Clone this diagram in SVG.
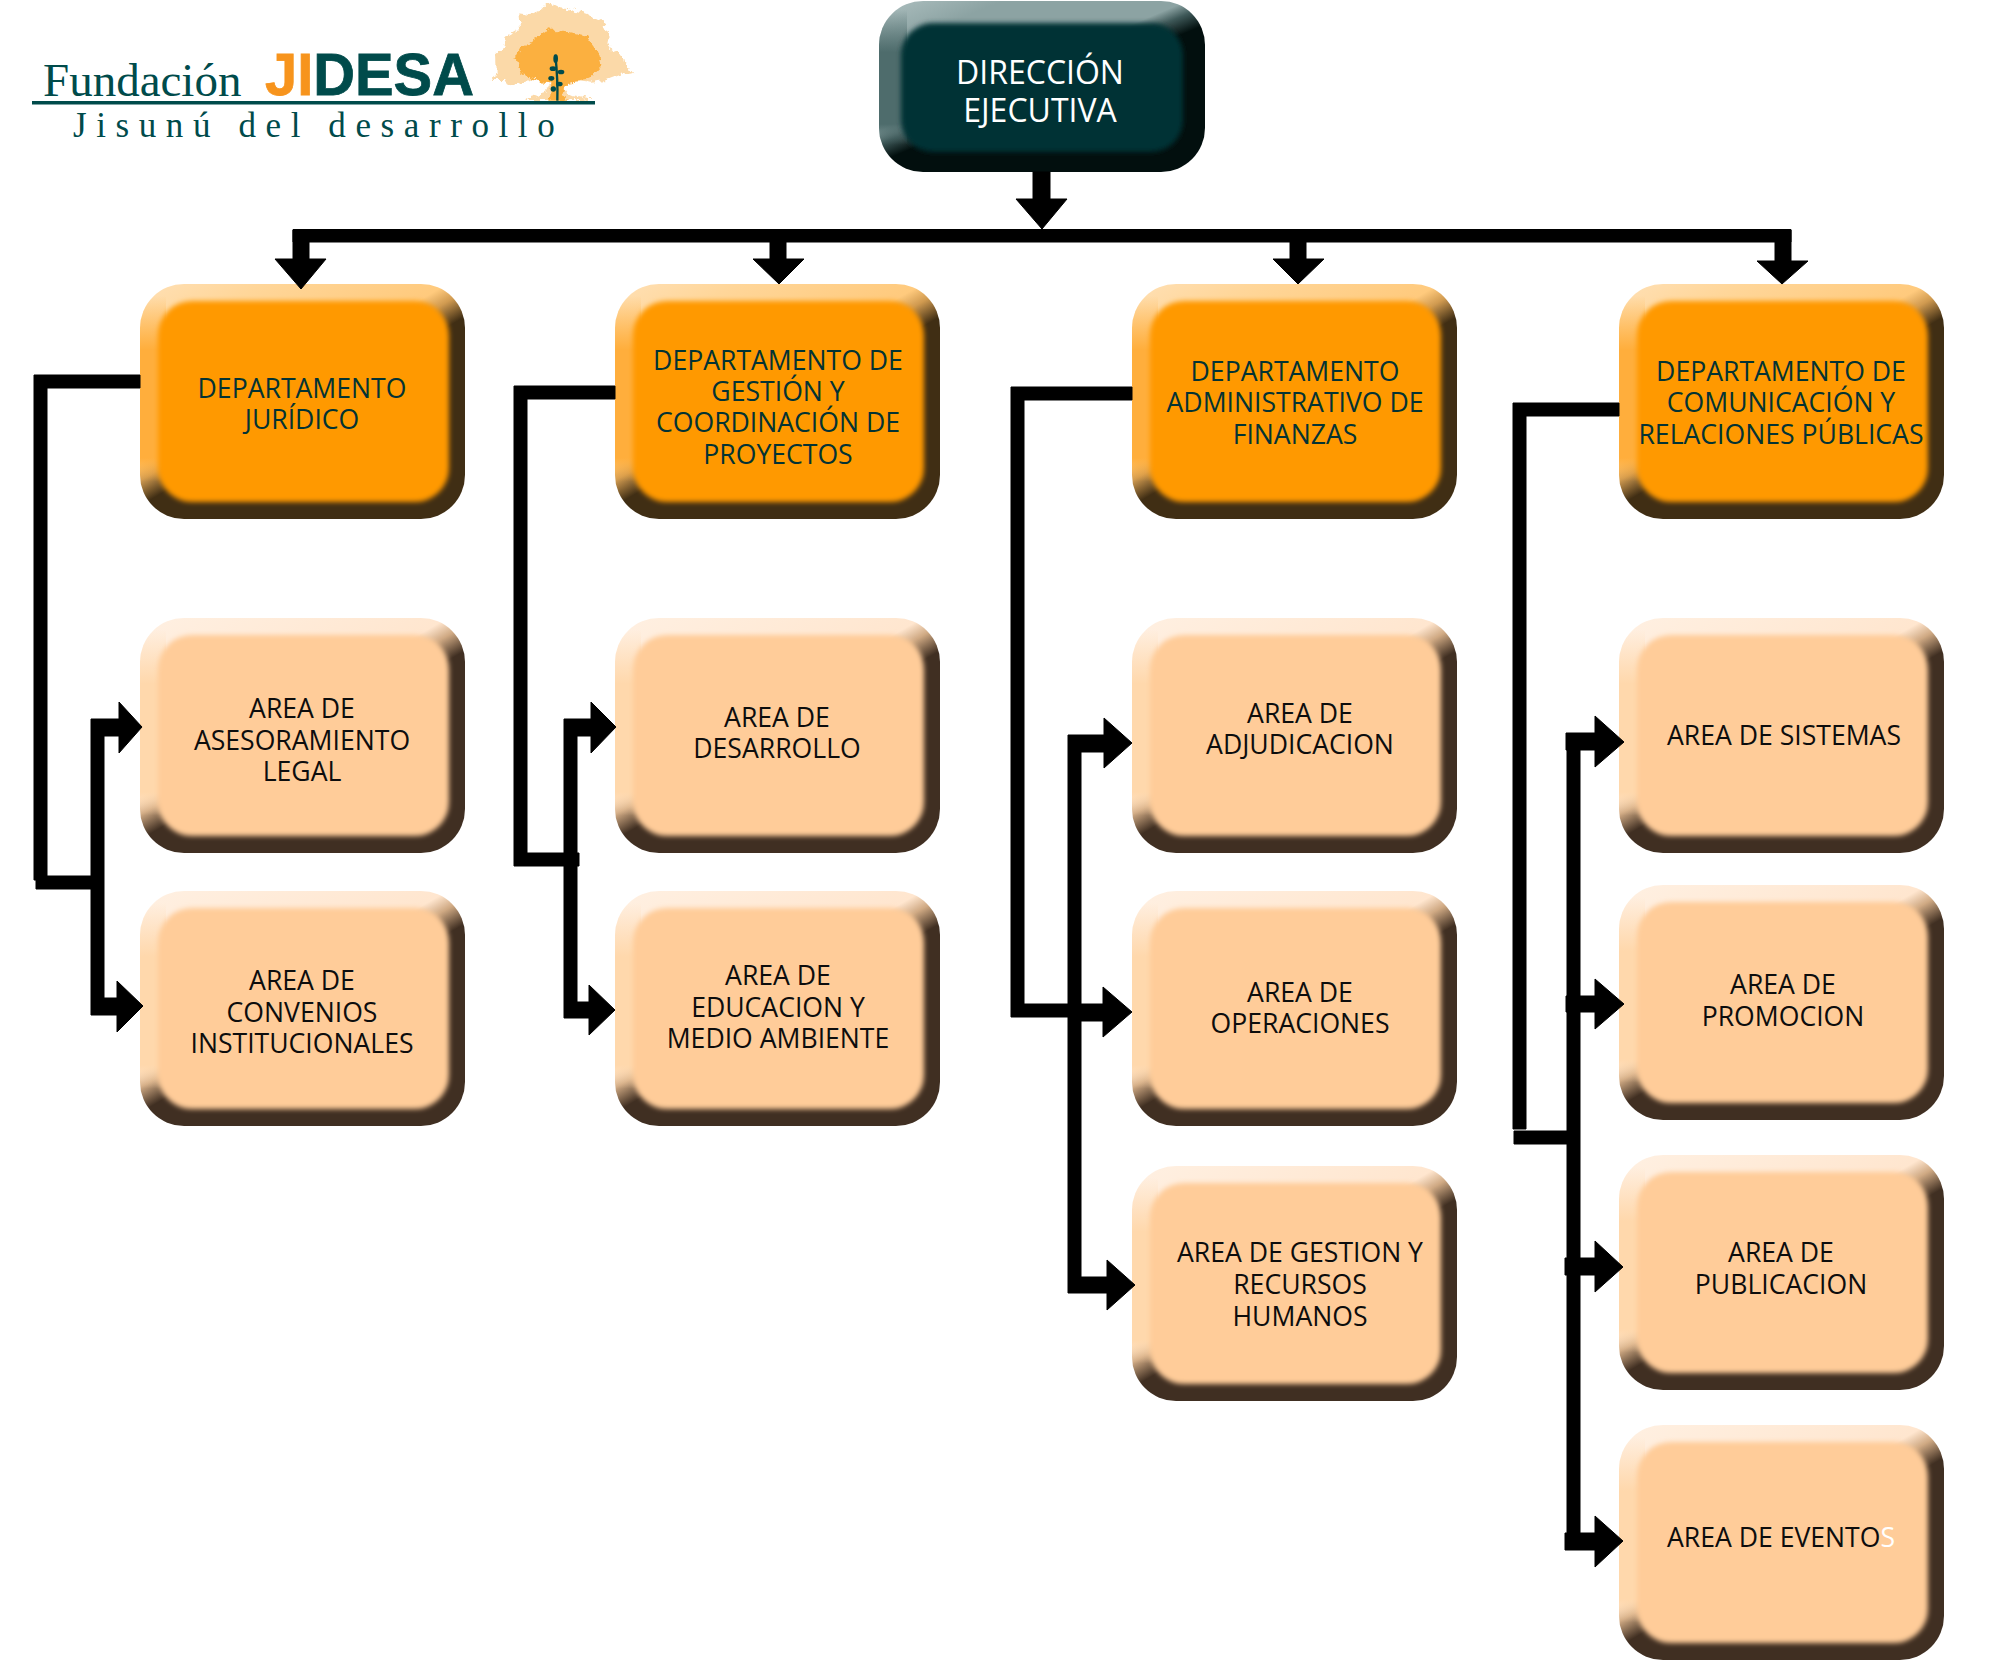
<svg xmlns="http://www.w3.org/2000/svg" width="2000" height="1667" viewBox="0 0 2000 1667">
<style>
.t{font-family:"Open Sans","Noto Sans",sans-serif;font-size:26.6px;text-anchor:middle}
.dep{fill:#033334}
.ar{fill:#0d0d0d}
.dir{fill:#fff;font-size:32px}
.c{fill:#000;stroke:#000;stroke-width:1;stroke-linejoin:round}
.teal{fill:#004b4b}
</style>
<defs>
<filter id="soft" x="-5%" y="-5%" width="110%" height="110%"><feGaussianBlur stdDeviation="2.6"/></filter>
<filter id="lump" x="-10%" y="-10%" width="120%" height="120%" color-interpolation-filters="sRGB"><feTurbulence type="fractalNoise" baseFrequency="0.05" numOctaves="3" seed="4"/><feDisplacementMap in="SourceGraphic" scale="26" xChannelSelector="R" yChannelSelector="G"/></filter>
<clipPath id="cb"><rect width="325" height="235" rx="44"/></clipPath>
<clipPath id="cd"><rect width="326" height="171" rx="44"/></clipPath>
<linearGradient id="go" x1="0" y1="0" x2=".744" y2=".924"><stop offset="0" stop-color="#ffe0b5"/><stop offset=".2" stop-color="#ffd699"/><stop offset=".5" stop-color="#ffca7d"/><stop offset=".55" stop-color="#d09a50"/><stop offset=".62" stop-color="#402e14"/></linearGradient>
<linearGradient id="gp" x1="0" y1="0" x2=".744" y2=".924"><stop offset="0" stop-color="#fff0e2"/><stop offset=".5" stop-color="#ffe6cf"/><stop offset=".55" stop-color="#cfa983"/><stop offset=".62" stop-color="#402f22"/></linearGradient>
<linearGradient id="gd" x1="0" y1="0" x2=".744" y2=".924"><stop offset="0" stop-color="#aec0c0"/><stop offset=".2" stop-color="#8ca3a3"/><stop offset=".5" stop-color="#8ca3a3"/><stop offset=".55" stop-color="#3e5858"/><stop offset=".62" stop-color="#020f0e"/></linearGradient>
<linearGradient id="lo" x1="0" y1="0" x2="0" y2="1"><stop offset=".05" stop-color="#ffae3c" stop-opacity="0"/><stop offset=".28" stop-color="#ffae3c"/><stop offset=".74" stop-color="#ffae3c"/><stop offset=".84" stop-color="#ffae3c" stop-opacity="0"/></linearGradient>
<linearGradient id="lp" x1="0" y1="0" x2="0" y2="1"><stop offset=".05" stop-color="#ffd8ac" stop-opacity="0"/><stop offset=".28" stop-color="#ffd8ac"/><stop offset=".74" stop-color="#ffd8ac"/><stop offset=".84" stop-color="#ffd8ac" stop-opacity="0"/></linearGradient>
<linearGradient id="ld" x1="0" y1="0" x2="0" y2="1"><stop offset=".05" stop-color="#4e6c6c" stop-opacity="0"/><stop offset=".3" stop-color="#4e6c6c"/><stop offset=".72" stop-color="#4e6c6c"/><stop offset=".84" stop-color="#4e6c6c" stop-opacity="0"/></linearGradient>
<g id="bo" clip-path="url(#cb)"><rect width="325" height="235" fill="url(#go)"/><rect width="26" height="235" fill="url(#lo)"/><rect x="18" y="17" width="291" height="201" rx="34" fill="#ff9900" filter="url(#soft)"/></g>
<g id="bp" clip-path="url(#cb)"><rect width="325" height="235" fill="url(#gp)"/><rect width="26" height="235" fill="url(#lp)"/><rect x="18" y="17" width="291" height="201" rx="34" fill="#ffcc99" filter="url(#soft)"/></g>
<g id="bd" clip-path="url(#cd)"><rect width="326" height="171" fill="url(#gd)"/><rect width="28" height="171" fill="url(#ld)"/><rect x="22" y="22" width="282" height="129" rx="32" fill="#033334" filter="url(#soft)"/></g>
</defs>
<rect width="2000" height="1667" fill="#fff"/>

<g id="logo">
<g transform="translate(480 0) scale(.3333)">
<path filter="url(#lump)" fill="#fbd9a8" d="M35 240L50 215 48 160 70 140 75 110 120 85 115 40 150 45 185 30 205 8 230 20 260 25 300 35 330 45 380 70 370 85 390 100 385 130 400 150 430 170 435 190 460 220 420 225 380 240 330 245 250 235 245 255 265 285 340 300 130 300 195 280 210 250 160 240 100 255 70 240Z"/>
<path filter="url(#lump)" fill="#fbb040" d="M106 175L125 140 165 118 205 88 260 94 318 108 355 160 365 195 328 236 262 246 250 285 262 302 205 302 212 250 170 246 122 220Z"/>
<path d="M232 302Q234 240 226 165" fill="none" stroke="#004b4b" stroke-width="7"/>
<g fill="#004b4b"><ellipse cx="227" cy="176" rx="7" ry="13"/><ellipse cx="219" cy="206" rx="10" ry="7"/><ellipse cx="243" cy="216" rx="10" ry="7"/><ellipse cx="214" cy="235" rx="9" ry="7"/><ellipse cx="238" cy="252" rx="10" ry="7"/><ellipse cx="220" cy="267" rx="8" ry="8"/></g>
</g>
<rect x="32" y="101" width="563" height="3.5" fill="#004b4b"/>
<text x="43" y="96" font-family="'Liberation Serif',serif" font-size="47" class="teal">Fundación</text>
<text x="265" y="95" font-family="'Liberation Sans',sans-serif" font-weight="700" font-size="60" textLength="209" lengthAdjust="spacingAndGlyphs" stroke="#004b4b" stroke-width=".8" class="teal"><tspan fill="#f7941d" stroke="#f7941d">JI</tspan>DESA</text>
<text x="73" y="137" font-family="'Liberation Serif',serif" font-size="35" letter-spacing="9.6" class="teal">Jisunú del desarrollo</text>
</g>

<g id="n-direccion"><use href="#bd" x="879" y="1"/><text class="t dir" x="1040" y="84">DIRECCIÓN</text><text class="t dir" x="1040" y="122">EJECUTIVA</text></g>

<g id="n-juridico"><use href="#bo" x="140" y="284"/><text class="t dep" x="302" y="398">DEPARTAMENTO</text><text class="t dep" x="302" y="429">JURÍDICO</text></g>
<g id="n-gestion"><use href="#bo" x="615" y="284"/><text class="t dep" x="778" y="370">DEPARTAMENTO DE</text><text class="t dep" x="778" y="401">GESTIÓN Y</text><text class="t dep" x="778" y="432">COORDINACIÓN DE</text><text class="t dep" x="778" y="464">PROYECTOS</text></g>
<g id="n-finanzas"><use href="#bo" x="1132" y="284"/><text class="t dep" x="1295" y="381">DEPARTAMENTO</text><text class="t dep" x="1295" y="412">ADMINISTRATIVO DE</text><text class="t dep" x="1295" y="444">FINANZAS</text></g>
<g id="n-comunicacion"><use href="#bo" x="1619" y="284"/><text class="t dep" x="1781" y="381">DEPARTAMENTO DE</text><text class="t dep" x="1781" y="412">COMUNICACIÓN Y</text><text class="t dep" x="1781" y="444">RELACIONES PÚBLICAS</text></g>

<g id="n-asesoramiento"><use href="#bp" x="140" y="618"/><text class="t ar" x="302" y="718">AREA DE</text><text class="t ar" x="302" y="750">ASESORAMIENTO</text><text class="t ar" x="302" y="781">LEGAL</text></g>
<g id="n-convenios"><use href="#bp" x="140" y="891"/><text class="t ar" x="302" y="990">AREA DE</text><text class="t ar" x="302" y="1022">CONVENIOS</text><text class="t ar" x="302" y="1053">INSTITUCIONALES</text></g>
<g id="n-desarrollo"><use href="#bp" x="615" y="618"/><text class="t ar" x="777" y="727">AREA DE</text><text class="t ar" x="777" y="758">DESARROLLO</text></g>
<g id="n-educacion"><use href="#bp" x="615" y="891"/><text class="t ar" x="778" y="985">AREA DE</text><text class="t ar" x="778" y="1017">EDUCACION Y</text><text class="t ar" x="778" y="1048">MEDIO AMBIENTE</text></g>
<g id="n-adjudicacion"><use href="#bp" x="1132" y="618"/><text class="t ar" x="1300" y="723">AREA DE</text><text class="t ar" x="1300" y="754">ADJUDICACION</text></g>
<g id="n-operaciones"><use href="#bp" x="1132" y="891"/><text class="t ar" x="1300" y="1002">AREA DE</text><text class="t ar" x="1300" y="1033">OPERACIONES</text></g>
<g id="n-rrhh"><use href="#bp" x="1132" y="1166"/><text class="t ar" x="1300" y="1262">AREA DE GESTION Y</text><text class="t ar" x="1300" y="1294">RECURSOS</text><text class="t ar" x="1300" y="1326">HUMANOS</text></g>
<g id="n-sistemas"><use href="#bp" x="1619" y="618"/><text class="t ar" x="1784" y="745">AREA DE SISTEMAS</text></g>
<g id="n-promocion"><use href="#bp" x="1619" y="885"/><text class="t ar" x="1783" y="994">AREA DE</text><text class="t ar" x="1783" y="1026">PROMOCION</text></g>
<g id="n-publicacion"><use href="#bp" x="1619" y="1155"/><text class="t ar" x="1781" y="1262">AREA DE</text><text class="t ar" x="1781" y="1294">PUBLICACION</text></g>
<g id="n-eventos"><use href="#bp" x="1619" y="1425"/><text class="t ar" x="1781" y="1547">AREA DE EVENTO<tspan fill="#fff">S</tspan></text></g>

<g id="connectors">
<path class="c" d="M1033 172H1050V199H1067L1042 229 1016 199H1033Z"/>
<path class="c" d="M293 229.500H1791V242H293Z"/>
<path class="c" d="M293 230H309V259H326L301 289 275 259H293Z"/>
<path class="c" d="M770 230H786V259H804L779 284 753 259H770Z"/>
<path class="c" d="M1290 230H1306V259H1324L1298 284 1273 259H1290Z"/>
<path class="c" d="M1775 230H1791V261H1808L1782 284 1757 261H1775Z"/>

<path class="c" d="M140 375H34V880H36V889H92V876H47V388H140Z"/>
<path class="c" d="M91 719H119V702L142 727 119 753V736H104V998H117V981L143 1006 117 1032V1015H91Z"/>

<path class="c" d="M615 386H514V866H579V853H527V399H615Z"/>
<path class="c" d="M564 719H591V702L616 727 591 753V736H577V1002H589V985L615 1010 589 1035V1018H564Z"/>

<path class="c" d="M1132 387H1011V1017H1068V1293H1107V1310L1135 1285 1107 1260V1277H1081V1021H1103V1037L1132 1012 1103 987V1004H1081V752H1104V768L1132 743 1104 718V735H1068V1004H1024V400H1132Z"/>

<path class="c" d="M1619 403H1513V1129H1526V416H1619Z"/>
<path class="c" d="M1514 1131H1567V1144H1514Z"/>
<path class="c" d="M1566 733H1595V716L1624 742 1595 767V750H1580V996H1595V979L1624 1004 1595 1029V1012H1580V1258H1595V1241L1623 1267 1595 1292V1275H1580V1533H1595V1516L1623 1541 1595 1567V1550H1565V1533H1567V1275H1565V1258H1567V1012H1566V996H1567V750H1566Z"/>
</g>
</svg>
